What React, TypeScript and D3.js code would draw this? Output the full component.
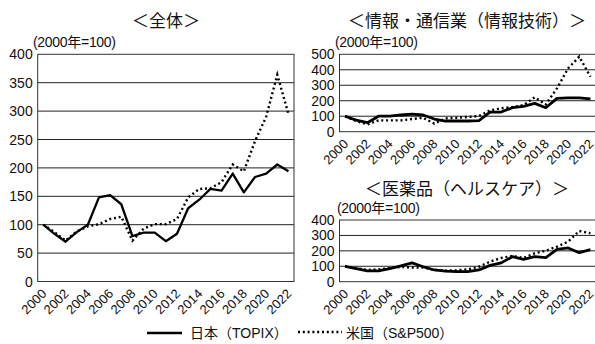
import React from "react";
import * as d3 from "d3";

const years = d3.range(2000, 2023).map(String);
const tickYears = years.filter((_, i) => i % 2 === 0);

// 全体
const allJapan = [100, 84, 70, 87, 100, 148, 152, 136, 80, 86, 86, 71, 84, 129, 144, 163, 160, 190, 157, 184, 190, 206, 194];
const allUS = [100, 87, 72, 88, 97, 101, 110, 114, 72, 93, 101, 101, 110, 148, 163, 164, 175, 206, 194, 247, 290, 364, 295];
const allTicks = [0, 50, 100, 150, 200, 250, 300, 350, 400];

// 情報・通信業（情報技術）
const itJapan = [100, 75, 58, 100, 100, 108, 113, 108, 82, 69, 69, 69, 71, 127, 127, 155, 163, 183, 155, 215, 218, 218, 212];
const itUS = [100, 69, 47, 73, 73, 73, 82, 90, 52, 86, 90, 95, 101, 138, 151, 159, 172, 222, 176, 280, 409, 485, 355];
const itTicks = [0, 100, 200, 300, 400, 500];

// 医薬品（ヘルスケア）
const hcJapan = [100, 84, 70, 70, 84, 102, 122, 97, 76, 69, 65, 65, 76, 106, 122, 162, 145, 162, 156, 210, 219, 188, 208];
const hcUS = [100, 88, 76, 80, 88, 96, 92, 92, 76, 72, 74, 80, 97, 130, 154, 167, 154, 184, 201, 227, 260, 329, 314];
const hcTicks = [0, 100, 200, 300, 400];

const FONT = "'Liberation Sans', Arial, 'Noto Sans CJK JP', sans-serif";
const DOT = "2,2.8";
const C = Math.SQRT1_2;

type PanelProps = {
  title: string;
  titleX: number;
  titleY: number;
  unitX: number;
  unitY: number;
  left: number;
  right: number;
  top: number;
  bottom: number;
  max: number;
  ticks: number[];
  japan: number[];
  us: number[];
  lw: number;
};

function Panel(p: PanelProps) {
  const x = d3.scaleBand<string>().domain(years).range([p.left, p.right]).padding(0);
  const cx = (d: string) => (x(d) as number) + x.bandwidth() / 2;
  const y = d3.scaleLinear().domain([0, p.max]).range([p.bottom, p.top]);
  const line = d3
    .line<number>()
    .x((_, i) => cx(years[i]))
    .y((d) => y(d));
  return (
    <g>
      <text x={p.titleX} y={p.titleY} textAnchor="middle" fontSize={17} fill="#111">
        {p.title}
      </text>
      <text x={p.unitX} y={p.unitY} fontSize={14} fill="#111" letterSpacing={-0.3}>
        (2000年=100)
      </text>
      {p.ticks.map((t) => (
        <g key={t}>
          {t > 0 && t < p.max && (
            <line x1={p.left} x2={p.right} y1={y(t)} y2={y(t)} stroke="#222" strokeWidth={1} />
          )}
          <text x={p.left - 5} y={y(t) + 5} textAnchor="end" fontSize={14} fill="#111">
            {t}
          </text>
        </g>
      ))}
      <rect
        x={p.left}
        y={p.top}
        width={p.right - p.left}
        height={p.bottom - p.top}
        fill="none"
        stroke="#333"
        strokeWidth={1}
      />
      {tickYears.map((yr) => (
        <text
          key={yr}
          transform={`matrix(${C},${-C},${C},${C},${cx(yr) + 4},${p.bottom + 13})`}
          textAnchor="end"
          fontSize={13}
          fill="#111"
        >
          {yr}
        </text>
      ))}
      <path d={line(p.us) || ""} fill="none" stroke="#000" strokeWidth={2.4} strokeDasharray={DOT} />
      <path d={line(p.japan) || ""} fill="none" stroke="#000" strokeWidth={p.lw} strokeLinejoin="round" />
    </g>
  );
}

export default function App() {
  return (
    <svg
      width={595}
      height={344}
      style={{ position: "absolute", left: 0, top: 0, background: "#fff" }}
      fontFamily={FONT}
    >
      <rect width={595} height={344} fill="#fff" />
      <Panel
        title="＜全体＞"
        titleX={166}
        titleY={27}
        unitX={33}
        unitY={47}
        left={37.7}
        right={294}
        top={54.3}
        bottom={281.5}
        max={400}
        ticks={allTicks}
        japan={allJapan}
        us={allUS}
        lw={2.3}
      />
      <Panel
        title="＜情報・通信業（情報技術）＞"
        titleX={467}
        titleY={27}
        unitX={335}
        unitY={47}
        left={339.5}
        right={596}
        top={54.3}
        bottom={131.7}
        max={500}
        ticks={itTicks}
        japan={itJapan}
        us={itUS}
        lw={2.8}
      />
      <Panel
        title="＜医薬品（ヘルスケア）＞"
        titleX={467}
        titleY={195}
        unitX={337}
        unitY={213}
        left={339.5}
        right={596}
        top={220}
        bottom={281.7}
        max={400}
        ticks={hcTicks}
        japan={hcJapan}
        us={hcUS}
        lw={2.8}
      />
      <g>
        <line x1={147} x2={182} y1={333} y2={333} stroke="#000" strokeWidth={2.3} />
        <text x={190} y={338} fontSize={14} fill="#111">
          日本（TOPIX）
        </text>
        <line x1={298} x2={342} y1={332} y2={332} stroke="#000" strokeWidth={2.4} strokeDasharray={DOT} />
        <text x={346} y={338} fontSize={14} fill="#111">
          米国（S&amp;P500）
        </text>
      </g>
    </svg>
  );
}
